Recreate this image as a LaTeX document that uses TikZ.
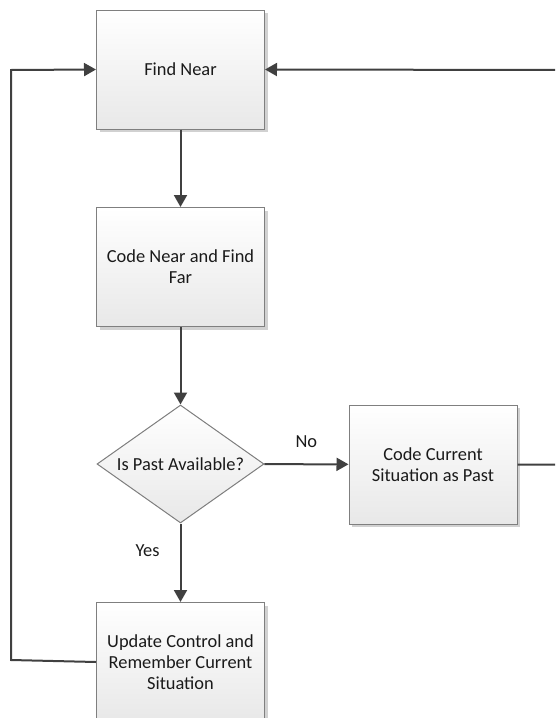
\documentclass[tikz,border=0pt]{standalone}
\usepackage{fontspec}
\setmainfont{Carlito}
\usetikzlibrary{shapes.geometric,arrows.meta,shadows}
\definecolor{linec}{HTML}{404040}
\definecolor{borderc}{HTML}{7F7F7F}
\definecolor{txtc}{HTML}{1A1A1A}
\tikzset{
  procbox/.style={rectangle, draw=borderc, line width=1pt, top color=white, bottom color=black!9,
    minimum width=168pt, minimum height=119pt, align=center, inner sep=0pt,
    text=txtc, font=\fontsize{18.4}{21}\selectfont,
    drop shadow={shadow xshift=3pt, shadow yshift=-3pt, fill=black!18, opacity=1}},
  decbox/.style={diamond, aspect=1.415, draw=borderc, line width=1pt, top color=white, bottom color=black!9,
    minimum width=167pt, minimum height=118pt, inner sep=0pt, text=txtc,
    font=\fontsize{18.4}{21}\selectfont},
  conn/.style={draw=linec, line width=2pt, -{Triangle[length=12pt,width=13pt]}},
  lbl/.style={text=txtc, font=\fontsize{18.4}{21}\selectfont, inner sep=0pt}
}
\begin{document}
\begin{tikzpicture}[x=1pt,y=-1pt]
\useasboundingbox (0,0) rectangle (555,718);
\clip (0,0) rectangle (555,718);
\node[procbox] (find) at (180.5,69.5) {Find Near};
\node[procbox] (code) at (180.5,267) {Code Near and Find\\Far};
\node[decbox] (dec) at (180.5,464) {Is Past Available?};
\node[procbox] (cur) at (433,464.5) {Code Current\\Situation as Past};
\node[procbox] (upd) at (180.5,662) {Update Control and\\Remember Current\\Situation};
\coordinate (lc1) at (11,660);
\coordinate (lc2) at (11,70);
\coordinate (rc1) at (565,464.5);
\coordinate (rc2) at (565,70);
\draw[conn] (find) -- (code);
\draw[conn] (code) -- (dec);
\draw[conn] (dec) -- node[lbl, pos=0.35, xshift=-33pt] (yes) {Yes} (upd);
\draw[conn] (dec) -- node[lbl, pos=0.5, above=16pt] (no) {No} (cur);
\draw[conn] (upd.west) -- (lc1) -- (lc2) -- (find.west);
\draw[conn] (cur.east) -- (rc1) -- (rc2) -- (find.east);
\end{tikzpicture}
\end{document}
